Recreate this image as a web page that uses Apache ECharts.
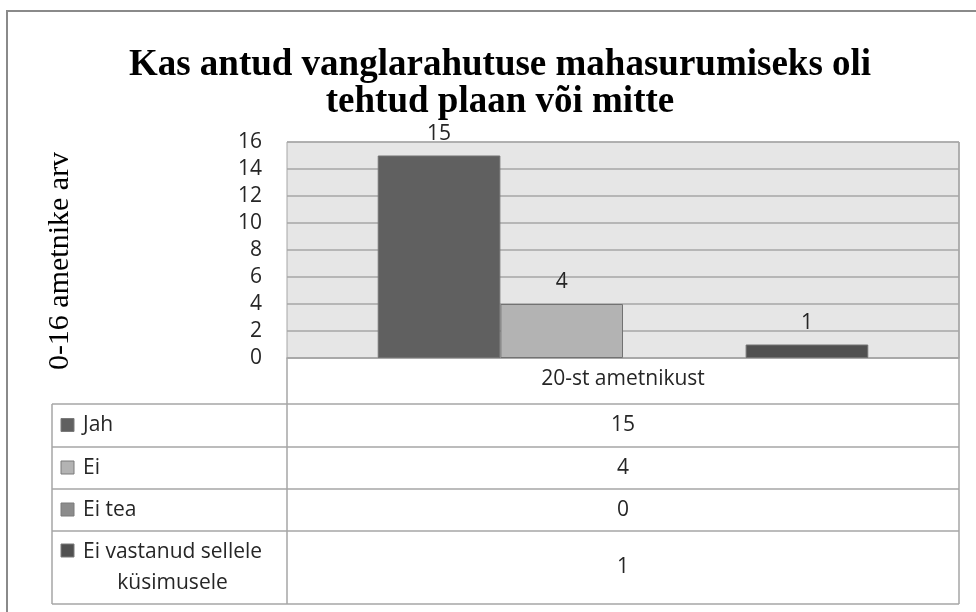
<!DOCTYPE html>
<html>
<head>
<meta charset="utf-8">
<script src="https://cdn.jsdelivr.net/npm/echarts@6/dist/echarts.min.js"></script>
<style>
  html, body { margin: 0; padding: 0; background: #fff; }
  #chart { width: 976px; height: 612px; }
</style>
</head>
<body>
<div id="chart"></div>
<script>
// data
const categories = ['20-st ametnikust'];
const seriesNames = ['Jah', 'Ei', 'Ei tea', 'Ei vastanud sellele\nküsimusele'];
const seriesValues = [15, 4, 0, 1];
const seriesColors = ['#606060', '#b3b3b3', '#8c8c8c', '#505050'];
const yMin = 0;
const yMax = 16;
const yStep = 2;

const titleText = 'Kas antud vanglarahutuse mahasurumiseks oli\ntehtud plaan või mitte';
const yName = '0-16 ametnike arv';

const chart = echarts.init(document.getElementById('chart'));

// layout of the data table under the plot
const plotLeft = 287, plotRight = 959, plotTop = 142, plotBottom = 358;
const tableLeft = 52;
const rowTops = [404, 447, 489, 531];
const tableBottom = 604;
const valueX = (plotLeft + plotRight) / 2;
const lineColor = '#a6a6a6';
const sans = '"Open Sans", "Noto Sans", sans-serif';
const tableFont = '21px ' + sans;

// width of a text line, used to centre wrapped row labels under their first line
const measureCtx = document.createElement('canvas').getContext('2d');
measureCtx.font = tableFont;
function textWidth(s) {
  return measureCtx.measureText(s).width;
}

const graphics = [];

// outer chart frame
graphics.push({
  type: 'rect',
  shape: { x: 7, y: 11, width: 1000, height: 700 },
  style: { fill: 'none', stroke: '#8a8a8a', lineWidth: 2 },
  silent: true
});

function hLine(y, x1, x2) {
  graphics.push({
    type: 'line',
    shape: { x1: x1, y1: y, x2: x2, y2: y },
    style: { stroke: lineColor, lineWidth: 1.5 }
  });
}
function vLine(x, y1, y2) {
  graphics.push({
    type: 'line',
    shape: { x1: x, y1: y1, x2: x, y2: y2 },
    style: { stroke: lineColor, lineWidth: 1.5 }
  });
}

rowTops.concat([tableBottom]).forEach(function (y) {
  hLine(y, tableLeft, plotRight);
});
vLine(tableLeft, rowTops[0], tableBottom);
vLine(plotLeft, plotBottom, tableBottom);
vLine(plotRight, plotTop, tableBottom);

seriesNames.forEach(function (name, i) {
  const top = rowTops[i];
  const bottom = i + 1 < rowTops.length ? rowTops[i + 1] : tableBottom;
  const mid = (top + bottom) / 2;
  const lines = name.split('\n');
  const multi = lines.length > 1;
  const keyY = multi ? top + 13 : mid - 7;
  const textX = 83;
  graphics.push({
    type: 'rect',
    shape: { x: 61, y: keyY, width: 13, height: 13 },
    style: { fill: seriesColors[i], stroke: '#7a7a7a', lineWidth: 1 }
  });
  graphics.push({
    type: 'text',
    x: multi ? textX + textWidth(lines[0]) / 2 : textX,
    y: mid,
    style: {
      text: name,
      fill: '#262626',
      font: tableFont,
      align: multi ? 'center' : 'left',
      verticalAlign: 'middle',
      lineHeight: 31
    }
  });
  graphics.push({
    type: 'text',
    x: valueX,
    y: mid,
    style: {
      text: String(seriesValues[i]),
      fill: '#262626',
      font: tableFont,
      align: 'center',
      verticalAlign: 'middle'
    }
  });
});

const series = seriesNames.map(function (name, i) {
  return {
    name: name,
    type: 'bar',
    data: [seriesValues[i]],
    barGap: '0%',
    barCategoryGap: '27%',
    itemStyle: {
      color: seriesColors[i],
      borderColor: '#727272',
      borderWidth: seriesValues[i] > 0 ? 1 : 0
    },
    label: {
      show: seriesValues[i] > 0,
      position: 'top',
      distance: 11,
      fontFamily: sans,
      fontSize: 21,
      color: '#262626'
    }
  };
});

const option = {
  animation: false,
  backgroundColor: '#fff',
  title: {
    text: titleText,
    left: 495,
    top: 42,
    textAlign: 'center',
    textStyle: {
      fontFamily: '"Liberation Serif", serif',
      fontWeight: 'bold',
      fontSize: 37,
      lineHeight: 37,
      color: '#000'
    }
  },
  grid: {
    left: plotLeft,
    right: 976 - plotRight,
    top: plotTop,
    bottom: 612 - plotBottom,
    show: true,
    backgroundColor: '#e6e6e6',
    borderColor: lineColor,
    borderWidth: 1
  },
  xAxis: {
    type: 'category',
    data: categories,
    axisLine: { show: true, lineStyle: { color: lineColor, width: 1.5 } },
    axisTick: { show: false },
    axisLabel: { fontFamily: sans, fontSize: 21, color: '#262626', margin: 11 }
  },
  yAxis: {
    type: 'value',
    min: yMin,
    max: yMax,
    interval: yStep,
    name: yName,
    nameLocation: 'middle',
    nameRotate: 90,
    nameGap: 212,
    nameTextStyle: {
      fontFamily: '"Liberation Serif", serif',
      fontSize: 30,
      color: '#000',
      padding: [0, 22, 0, 0]
    },
    axisLine: { show: false },
    axisTick: { show: false },
    axisLabel: { fontFamily: sans, fontSize: 21, color: '#262626', margin: 25 },
    splitLine: { lineStyle: { color: lineColor, width: 1.5 } }
  },
  series: series,
  graphic: graphics
};

chart.setOption(option);
</script>
</body>
</html>
